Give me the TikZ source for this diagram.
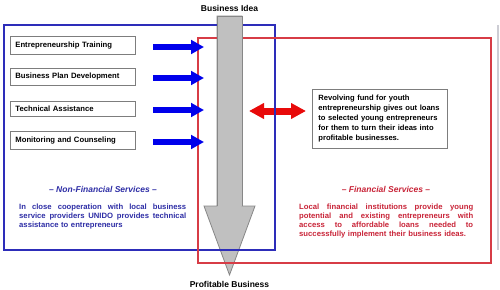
\documentclass[tikz,border=0pt]{standalone}
\usepackage{fontspec}
\setmainfont{Liberation Sans}
\usetikzlibrary{arrows.meta}
\definecolor{rectblue}{RGB}{45,45,185}
\definecolor{rectred}{RGB}{215,60,70}
\definecolor{txtblue}{RGB}{45,45,165}
\definecolor{txtred}{RGB}{200,35,55}
\definecolor{arrblue}{RGB}{0,0,235}
\definecolor{arrred}{RGB}{232,10,10}
\definecolor{bigfill}{RGB}{192,192,192}
\definecolor{bigline}{RGB}{135,135,135}
\definecolor{boxline}{RGB}{125,125,125}
\definecolor{edgegray}{RGB}{205,205,212}
\newcommand{\jline}[2]{\leavevmode\hbox to #1{\spaceskip=0.28em plus 1fil\relax #2}}
\begin{document}
\begin{tikzpicture}[x=1pt,y=-1pt,
  every node/.style={font=\fontsize{7.7}{9}\selectfont\bfseries},
  lbl/.style={draw=boxline, line width=0.8pt, fill=white, minimum width=125pt, minimum height=15pt,
    text width=115pt, inner sep=5pt, align=left, anchor=west},
  bluearrow/.style={arrblue, line width=6.5pt, -{Triangle[length=13pt,width=13.5pt]}},
  title/.style={font=\fontsize{8.5}{10}\selectfont\bfseries\itshape},
  body/.style={text width=#1, align=left, inner sep=0pt, anchor=north west}
]
\useasboundingbox (0,0) rectangle (500,289);

% faint edge line
\draw[edgegray, line width=2pt] (498,25) -- (498,250);

% red double arrow
\coordinate (ra) at (249,111);
\coordinate (rb) at (306,111);
\draw[arrred, line width=7pt, {Triangle[length=15pt,width=15pt]}-{Triangle[length=15pt,width=15pt]}] (ra) -- (rb);

% big gray arrow
\draw[fill=bigfill, draw=bigline, line width=0.8pt]
  (217,16) -- (242,16) -- (242,206) -- (255,206) -- (229.5,275) -- (204,206) -- (217,206) -- cycle;

% rectangles
\draw[rectblue, line width=1.1pt] (4,25) rectangle (275,250);
\draw[rectred, line width=1.1pt] (198,38) rectangle (491,263);

% shaft redrawn on top
\fill[bigfill] (217.4,16.4) rectangle (241.6,205.6);
\draw[bigline, line width=0.8pt] (217,206) -- (217,16) -- (242,16) -- (242,206);

% left boxes
\node[lbl] (b1) at (10,45.5) {Entrepreneurship Training};
\node[lbl] (b2) at (10,77) {Business Plan Development};
\node[lbl] (b3) at (10,109) {Technical Assistance};
\node[lbl] (b4) at (10,140.5) {Monitoring and Counseling};

% blue arrows
\coordinate (s1) at (153,47);  \coordinate (e1) at (204,47);
\coordinate (s2) at (153,78);  \coordinate (e2) at (204,78);
\coordinate (s3) at (153,110); \coordinate (e3) at (204,110);
\coordinate (s4) at (153,142); \coordinate (e4) at (204,142);
\draw[bluearrow] (s1) -- (e1);
\draw[bluearrow] (s2) -- (e2);
\draw[bluearrow] (s3) -- (e3);
\draw[bluearrow] (s4) -- (e4);

% right box
\node[draw=boxline, line width=0.8pt, fill=white, anchor=north west, minimum width=135pt, minimum height=57pt,
  text width=123pt, inner sep=6pt, align=left, font=\fontsize{7.6}{10}\selectfont\bfseries] (fund) at (312,89)
  {Revolving fund for youth\\ entrepreneurship gives out loans\\ to selected young entrepreneurs\\ for them to turn their ideas into\\ profitable businesses.};

% top / bottom labels
\node[font=\fontsize{8.5}{10}\selectfont\bfseries] (idea) at (229.5,8) {Business Idea};
\node[font=\fontsize{8.5}{10}\selectfont\bfseries] (profit) at (229.5,284) {Profitable Business};

% service titles and texts
\node[title, txtblue] (nft) at (103,189) {– Non-Financial Services –};
\node[body=167pt, txtblue] (nfb) at (19,203.5)
  {\jline{167pt}{In close cooperation with local business}\\
   \jline{167pt}{service providers UNIDO provides technical}\\
   assistance to entrepreneurs};
\node[title, txtred] (ft) at (386,189) {– Financial Services –};
\node[body=174pt, txtred] (fb) at (299,203.5)
  {\jline{174pt}{Local financial institutions provide young}\\
   \jline{174pt}{potential and existing entrepreneurs with}\\
   \jline{174pt}{access to affordable loans needed to}\\
   successfully implement their business ideas.};
\end{tikzpicture}
\end{document}
